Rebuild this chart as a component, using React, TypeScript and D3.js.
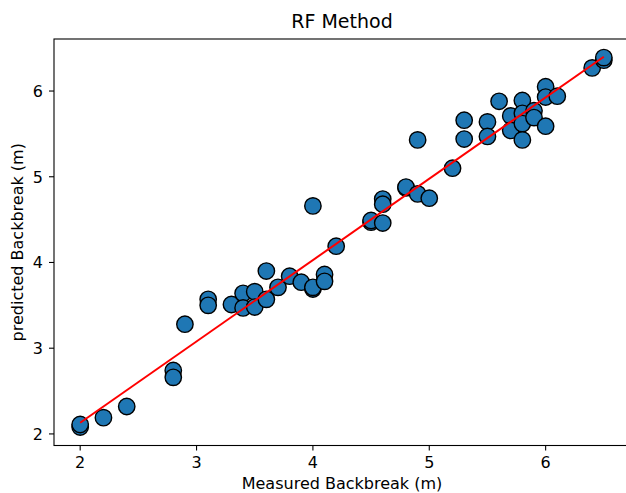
import React from "react";
import * as d3 from "d3";

const measured = [2.0, 2.0, 2.2, 2.4, 2.8, 2.8, 2.9, 3.1, 3.1, 3.3, 3.4, 3.4, 3.5, 3.5, 3.6, 3.6, 3.7, 3.8, 3.9, 4.0, 4.0, 4.0, 4.1, 4.1, 4.2, 4.5, 4.5, 4.6, 4.6, 4.6, 4.8, 4.8, 4.9, 4.9, 5.0, 5.2, 5.3, 5.3, 5.5, 5.5, 5.6, 5.7, 5.7, 5.8, 5.8, 5.8, 5.8, 5.9, 5.9, 6.0, 6.0, 6.0, 6.1, 6.4, 6.5, 6.5];
const predicted = [2.08, 2.11, 2.19, 2.32, 2.74, 2.66, 3.28, 3.57, 3.5, 3.51, 3.64, 3.47, 3.66, 3.48, 3.9, 3.57, 3.71, 3.84, 3.77, 4.66, 3.69, 3.71, 3.86, 3.78, 4.19, 4.47, 4.49, 4.46, 4.74, 4.68, 4.87, 4.88, 5.43, 4.8, 4.75, 5.1, 5.66, 5.44, 5.64, 5.47, 5.88, 5.71, 5.54, 5.89, 5.74, 5.62, 5.43, 5.77, 5.69, 6.05, 5.93, 5.59, 5.94, 6.27, 6.36, 6.39];
const fitX = [2, 6.5];
const fitY = [2.13, 6.4];
const xTicks = [2, 3, 4, 5, 6];
const yTicks = [2, 3, 4, 5, 6];

const W = 626;
const H = 493;
const L = 54, R = 630, T = 39, B = 445.5;
const font = "DejaVu Sans, sans-serif";

export default function App() {
  const x = d3.scaleLinear().domain([1.775, 6.725]).range([L, R]);
  const y = d3.scaleLinear().domain([1.865, 6.607]).range([B, T]);
  const line = d3.line<number>().x((d, i) => x(fitX[i])).y((d, i) => y(fitY[i]));
  return (
    <svg width={W} height={H} style={{ position: "absolute", left: 0, top: 0, background: "#fff" }}>
      <text x={(L + R) / 2} y={28} textAnchor="middle" fontFamily={font} fontSize={19} fill="#000">RF Method</text>
      {measured.map((m, i) => (
        <circle key={i} cx={x(m)} cy={y(predicted[i])} r={8.2} fill="#1f77b4" stroke="#000" strokeWidth={1.4} />
      ))}
      <path d={line(fitX) || ""} fill="none" stroke="#ff0000" strokeWidth={2} />
      <rect x={L} y={T} width={R - L} height={B - T} fill="none" stroke="#000" strokeWidth={1.1} />
      {xTicks.map((t) => (
        <g key={"x" + t}>
          <line x1={x(t)} x2={x(t)} y1={B} y2={B + 5} stroke="#000" strokeWidth={1.1} />
          <text x={x(t)} y={B + 22.5} textAnchor="middle" fontFamily={font} fontSize={16} fill="#000">{t}</text>
        </g>
      ))}
      {yTicks.map((t) => (
        <g key={"y" + t}>
          <line x1={L - 5} x2={L} y1={y(t)} y2={y(t)} stroke="#000" strokeWidth={1.1} />
          <text x={L - 11} y={y(t) + 5.8} textAnchor="end" fontFamily={font} fontSize={16} fill="#000">{t}</text>
        </g>
      ))}
      <text x={(L + R) / 2} y={489} textAnchor="middle" fontFamily={font} fontSize={16} fill="#000">Measured Backbreak (m)</text>
      <text transform={`translate(23,${(T + B) / 2}) rotate(-90)`} textAnchor="middle" fontFamily={font} fontSize={16} fill="#000">predicted Backbreak (m)</text>
    </svg>
  );
}
